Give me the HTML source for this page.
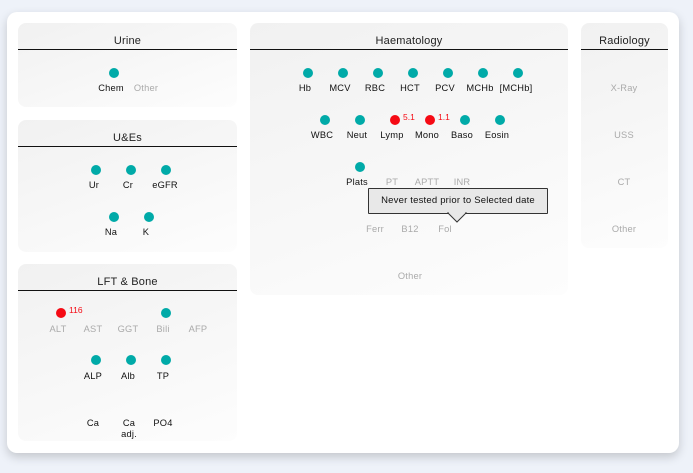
<!DOCTYPE html>
<html><head><meta charset="utf-8"><style>
*{margin:0;padding:0;box-sizing:border-box}
body{width:693px;height:473px;background:#eef2f9;font-family:"Liberation Sans",sans-serif;position:relative;overflow:hidden}
.card{position:absolute;left:7px;top:12px;width:672px;height:441px;background:#fff;border-radius:10px;box-shadow:0 4px 10px rgba(0,0,0,.18)}
.p{position:absolute;border-radius:8px;background:linear-gradient(160deg,#f1f1f1,#fdfdfd)}
.p .h{position:absolute;left:0;right:0;top:0;height:27px;border-bottom:1.3px solid #111;text-align:center;font-size:11px;line-height:37px;color:#222;letter-spacing:0.2px}
.l{position:absolute;font-size:9.3px;color:#111;transform:translateX(-50%);white-space:nowrap;text-align:center;line-height:11px;letter-spacing:0.2px}
.g{color:#aaa}
.d{position:absolute;width:10px;height:10px;border-radius:50%;background:#00aaa8;transform:translate(-50%,-50%)}
.r{background:#f50a14}
.v{position:absolute;font-size:8.5px;color:#f50a14}
.tip{position:absolute;left:368px;top:188px;width:180px;height:26px;background:#e8e8e8;border:1px solid #333;font-size:9.5px;line-height:24px;text-align:center;color:#111;border-radius:1px;letter-spacing:0.2px}
</style></head><body>
<div class="card"></div>
<div class="p" style="left:18px;top:23px;width:219px;height:84px"><div class="h">Urine</div></div>
<div class="p" style="left:18px;top:120px;width:219px;height:132px"><div class="h">U&amp;Es</div></div>
<div class="p" style="left:18px;top:264px;width:219px;height:177px"><div class="h">LFT &amp; Bone</div></div>
<div class="p" style="left:250px;top:23px;width:318px;height:272px"><div class="h">Haematology</div></div>
<div class="p" style="left:581px;top:23px;width:87px;height:225px"><div class="h">Radiology</div></div>

<div class="d" style="left:114px;top:73px"></div>
<div class="l" style="left:111px;top:83px">Chem</div><div class="l g" style="left:146px;top:83px">Other</div>

<div class="d" style="left:96px;top:170px"></div><div class="d" style="left:131px;top:170px"></div><div class="d" style="left:166px;top:170px"></div>
<div class="l" style="left:94px;top:180px">Ur</div><div class="l" style="left:128px;top:180px">Cr</div><div class="l" style="left:165px;top:180px">eGFR</div>
<div class="d" style="left:114px;top:217px"></div><div class="d" style="left:149px;top:217px"></div>
<div class="l" style="left:111px;top:227px">Na</div><div class="l" style="left:146px;top:227px">K</div>

<div class="d r" style="left:61px;top:313px"></div><div class="v" style="left:69px;top:305px">116</div>
<div class="d" style="left:166px;top:313px"></div>
<div class="l g" style="left:58px;top:324px">ALT</div><div class="l g" style="left:93px;top:324px">AST</div><div class="l g" style="left:128px;top:324px">GGT</div><div class="l g" style="left:163px;top:324px">Bili</div><div class="l g" style="left:198px;top:324px">AFP</div>
<div class="d" style="left:96px;top:360px"></div><div class="d" style="left:131px;top:360px"></div><div class="d" style="left:166px;top:360px"></div>
<div class="l" style="left:93px;top:371px">ALP</div><div class="l" style="left:128px;top:371px">Alb</div><div class="l" style="left:163px;top:371px">TP</div>
<div class="l" style="left:93px;top:418px">Ca</div><div class="l" style="left:129px;top:418px">Ca<br>adj.</div><div class="l" style="left:163px;top:418px">PO4</div>

<div class="d" style="left:308px;top:73px"></div><div class="d" style="left:343px;top:73px"></div><div class="d" style="left:378px;top:73px"></div><div class="d" style="left:413px;top:73px"></div><div class="d" style="left:448px;top:73px"></div><div class="d" style="left:483px;top:73px"></div><div class="d" style="left:518px;top:73px"></div>
<div class="l" style="left:305px;top:83px">Hb</div><div class="l" style="left:340px;top:83px">MCV</div><div class="l" style="left:375px;top:83px">RBC</div><div class="l" style="left:410px;top:83px">HCT</div><div class="l" style="left:445px;top:83px">PCV</div><div class="l" style="left:480px;top:83px">MCHb</div><div class="l" style="left:516px;top:83px">[MCHb]</div>
<div class="d" style="left:325px;top:120px"></div><div class="d" style="left:360px;top:120px"></div><div class="d r" style="left:395px;top:120px"></div><div class="d r" style="left:430px;top:120px"></div><div class="d" style="left:465px;top:120px"></div><div class="d" style="left:500px;top:120px"></div>
<div class="v" style="left:403px;top:112px">5.1</div><div class="v" style="left:438px;top:112px">1.1</div>
<div class="l" style="left:322px;top:130px">WBC</div><div class="l" style="left:357px;top:130px">Neut</div><div class="l" style="left:392px;top:130px">Lymp</div><div class="l" style="left:427px;top:130px">Mono</div><div class="l" style="left:462px;top:130px">Baso</div><div class="l" style="left:497px;top:130px">Eosin</div>
<div class="d" style="left:360px;top:167px"></div>
<div class="l" style="left:357px;top:177px">Plats</div><div class="l g" style="left:392px;top:177px">PT</div><div class="l g" style="left:427px;top:177px">APTT</div><div class="l g" style="left:462px;top:177px">INR</div>
<div class="l g" style="left:375px;top:224px">Ferr</div><div class="l g" style="left:410px;top:224px">B12</div><div class="l g" style="left:445px;top:224px">Fol</div>
<div class="l g" style="left:410px;top:271px">Other</div>
<div class="tip">Never tested prior to Selected date</div>
<svg style="position:absolute;left:447px;top:212px" width="22" height="14"><polygon points="1,1 10,10 19,1" fill="#e8e8e8" stroke="#333" stroke-width="1"/><rect x="2" y="0" width="16" height="1.5" fill="#e8e8e8"/></svg>

<div class="l g" style="left:624px;top:83px">X-Ray</div><div class="l g" style="left:624px;top:130px">USS</div><div class="l g" style="left:624px;top:177px">CT</div><div class="l g" style="left:624px;top:224px">Other</div>
</body></html>
